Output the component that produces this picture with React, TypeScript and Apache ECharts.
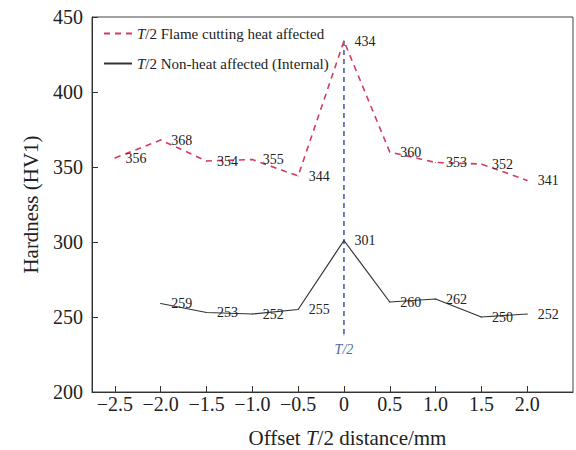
import React, { useEffect, useRef } from "react";
import * as echarts from "echarts";

const offsets = [-2.5, -2.0, -1.5, -1.0, -0.5, 0, 0.5, 1.0, 1.5, 2.0];
const flameValues = [356, 368, 354, 355, 344, 434, 360, 353, 352, 341];
const nonHeatOffsets = [-2.0, -1.5, -1.0, -0.5, 0, 0.5, 1.0, 1.5, 2.0];
const nonHeatValues = [259, 253, 252, 255, 301, 260, 262, 250, 252];
const markerLine = [[0, 434], [0, 238]];
const xTicks = [-2.5, -2.0, -1.5, -1.0, -0.5, 0, 0.5, 1.0, 1.5, 2.0];
const seriesNames = ["T/2 Flame cutting heat affected", "T/2 Non-heat affected (Internal)"];

const FONT = "Liberation Serif";

export default function App() {
  const ref = useRef<HTMLDivElement>(null);
  useEffect(() => {
    if (!ref.current) return;
    const chart = echarts.init(ref.current, null, { renderer: "svg" });
    const labelCommon = {
      show: true,
      position: "right",
      distance: 10,
      fontFamily: FONT,
      fontSize: 14,
      color: "#222",
    };
    chart.setOption({
      animation: false,
      backgroundColor: "#fff",
      textStyle: { fontFamily: FONT },
      grid: {
        left: 92,
        right: 3,
        top: 17,
        bottom: 58,
        show: true,
        borderColor: "#444",
        borderWidth: 1,
        containLabel: false,
        outerBoundsMode: "none",
      },
      legend: {
        data: seriesNames,
        orient: "vertical",
        left: 98,
        top: 21,
        itemWidth: 28,
        itemHeight: 14,
        itemGap: 15,
        itemStyle: { opacity: 0 },
        formatter: (name: string) => "{i|T}{n|" + name.slice(1) + "}",
        textStyle: {
          fontFamily: FONT,
          fontSize: 15,
          color: "#222",
          rich: {
            i: { fontFamily: FONT, fontSize: 15, fontStyle: "italic", color: "#222" },
            n: { fontFamily: FONT, fontSize: 15, color: "#222" },
          },
        },
      },
      xAxis: {
        type: "value",
        min: -2.75,
        max: 2.5,
        name: "{n|Offset }{i|T}{n|/2 distance/mm}",
        nameLocation: "middle",
        nameGap: 35,
        nameTextStyle: {
          padding: [0, 0, 0, 30],
          rich: {
            n: { fontFamily: FONT, fontSize: 21, color: "#222" },
            i: { fontFamily: FONT, fontSize: 21, fontStyle: "italic", color: "#222" },
          },
        },
        axisLine: { show: true, lineStyle: { color: "#333", width: 1 } },
        axisTick: {
          show: true,
          inside: true,
          length: 6,
          customValues: xTicks,
          lineStyle: { color: "#333" },
        },
        axisLabel: {
          customValues: xTicks,
          fontFamily: FONT,
          fontSize: 20,
          color: "#222",
          margin: 2,
          formatter: (v: number) =>
            v === 0 ? "0" : (v < 0 ? "\u2212" : "") + Math.abs(v).toFixed(1),
        },
        splitLine: { show: false },
      },
      yAxis: {
        type: "value",
        min: 200,
        max: 450,
        interval: 50,
        name: "Hardness (HV1)",
        nameLocation: "middle",
        nameGap: 51,
        nameTextStyle: { fontFamily: FONT, fontSize: 21, color: "#222" },
        axisLine: { show: true, onZero: false, lineStyle: { color: "#333", width: 1 } },
        axisTick: { show: true, inside: true, length: 6, lineStyle: { color: "#333" } },
        axisLabel: { fontFamily: FONT, fontSize: 20, color: "#222", margin: 9 },
        splitLine: { show: false },
      },
      series: [
        {
          name: seriesNames[0],
          type: "line",
          data: offsets.map((x, i) => [x, flameValues[i]]),
          symbol: "circle",
          symbolSize: 1,
          lineStyle: { color: "#d63a5e", width: 1.6, type: [6, 5] },
          itemStyle: { color: "#d63a5e" },
          label: labelCommon,
          z: 3,
        },
        {
          name: seriesNames[1],
          type: "line",
          data: nonHeatOffsets.map((x, i) => [x, nonHeatValues[i]]),
          symbol: "circle",
          symbolSize: 1,
          lineStyle: { color: "#333", width: 1.2 },
          itemStyle: { color: "#333" },
          label: labelCommon,
          z: 3,
        },
        {
          name: "T/2",
          type: "line",
          data: markerLine,
          symbol: "circle",
          symbolSize: 1,
          lineStyle: { color: "#4a5ea8", width: 1.6, type: [5, 4] },
          itemStyle: { color: "#4a5ea8" },
          label: {
            show: true,
            position: "bottom",
            distance: 7,
            fontFamily: FONT,
            fontSize: 14,
            fontStyle: "italic",
            color: "#4a6aa8",
            formatter: (p: any) => (p.dataIndex === 1 ? "T/2" : ""),
          },
          z: 2,
        },
      ],
    });
    return () => chart.dispose();
  }, []);
  return (
    <div
      ref={ref}
      style={{ position: "fixed", left: 0, top: 0, width: 576, height: 450 }}
    />
  );
}
